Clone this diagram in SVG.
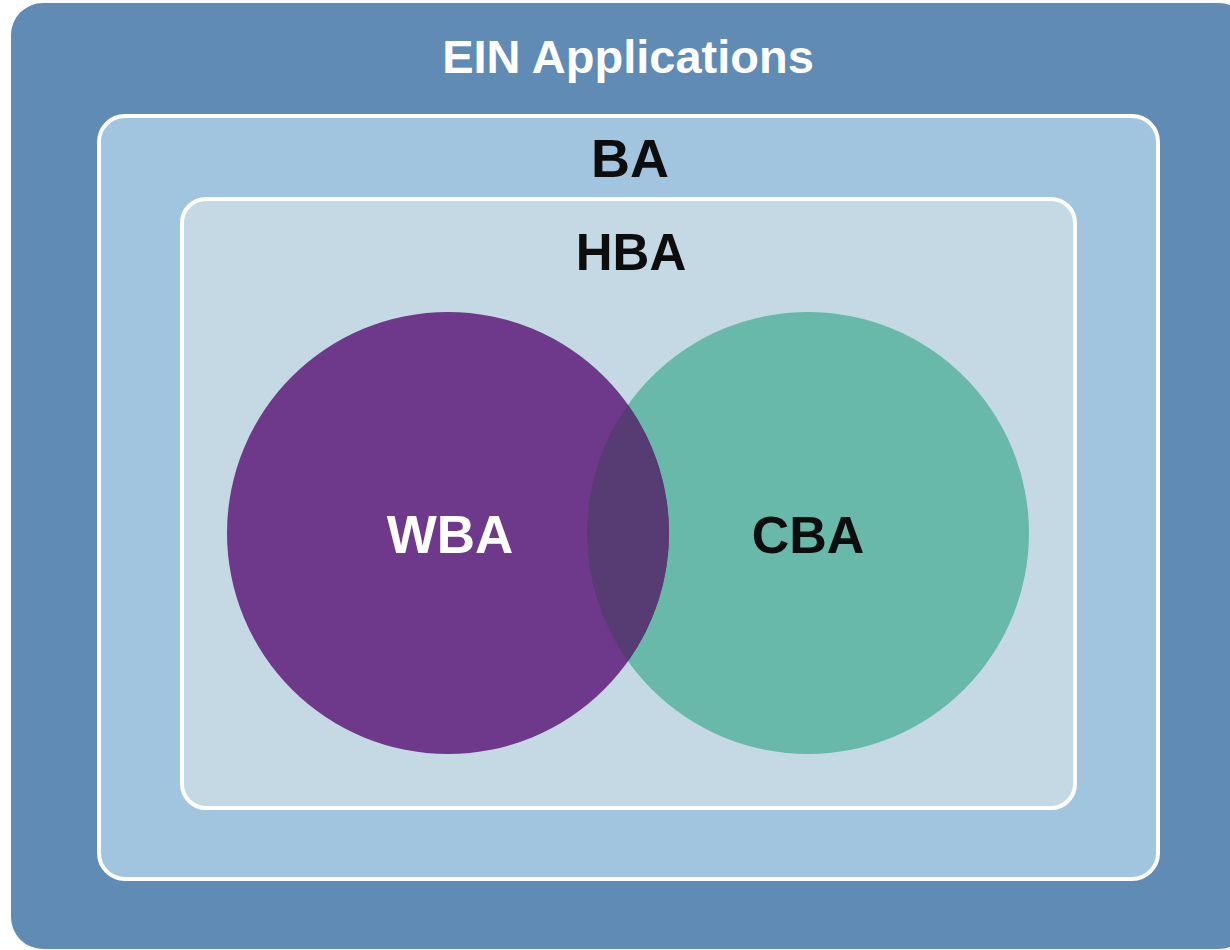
<svg xmlns="http://www.w3.org/2000/svg" width="1230" height="950" viewBox="0 0 1230 950">
<style>
.lbl{font-family:"Liberation Sans",Arial,sans-serif;font-weight:bold;text-anchor:middle}
.box{stroke:#ffffff;stroke-width:4}
</style>
<rect width="1230" height="950" fill="#ffffff"/>
<g id="ein">
<rect x="11" y="3" width="1240" height="946" rx="32" fill="#5f8bb4"/>
<text class="lbl" x="628" y="73" font-size="47" fill="#ffffff">EIN Applications</text>
</g>
<g id="ba">
<rect class="box" x="99" y="116" width="1059" height="763" rx="26" fill="#a2c5df"/>
<text class="lbl" x="630" y="177" font-size="54" fill="#0d0d0d">BA</text>
</g>
<g id="hba">
<rect class="box" x="182" y="199" width="893" height="609" rx="24" fill="#c4d9e4"/>
<text class="lbl" x="631" y="270" font-size="51" fill="#0d0d0d">HBA</text>
</g>
<g id="cba">
<circle cx="808" cy="533" r="221" fill="#68b9aa"/>
<text class="lbl" x="808" y="553" font-size="52" fill="#0d0d0d">CBA</text>
</g>
<g id="wba">
<circle cx="448" cy="533" r="221" fill="#6e398b"/>
<path d="M628,404.8 A221,221 0 0 1 628,661.2 A221,221 0 0 1 628,404.8 Z" fill="#573b73"/>
<text class="lbl" x="450" y="553" font-size="53" fill="#ffffff">WBA</text>
</g>
<g id="connectors"/>
</svg>
